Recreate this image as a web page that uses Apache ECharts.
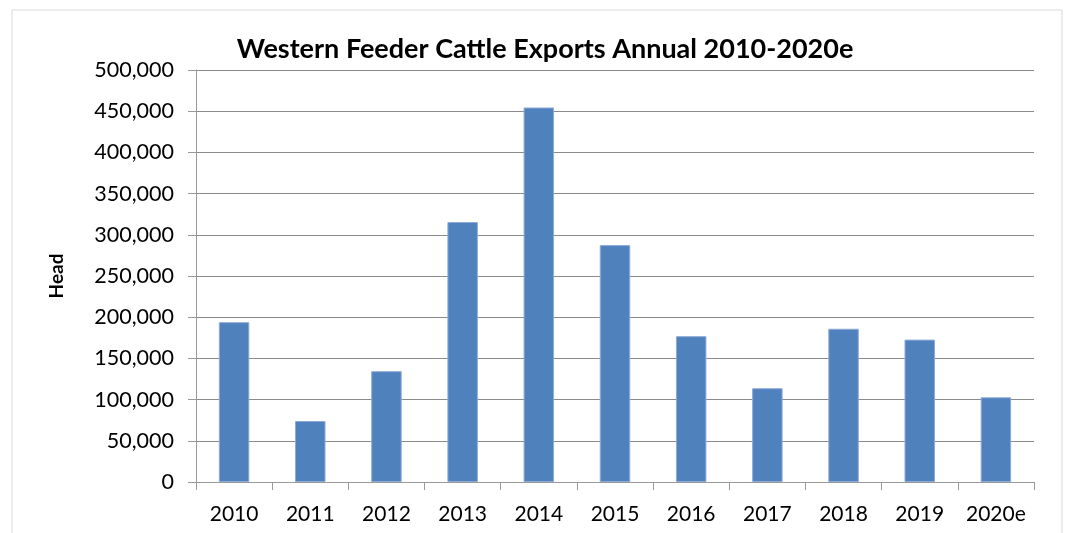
<!DOCTYPE html>
<html>
<head>
<meta charset="utf-8">
<script src="https://cdn.jsdelivr.net/npm/echarts@6/dist/echarts.min.js"></script>
<style>
  html, body { margin: 0; padding: 0; background: #fff; }
  #chart { width: 1068px; height: 533px; }
</style>
</head>
<body>
<div id="chart"></div>
<script>
const years = ['2010', '2011', '2012', '2013', '2014', '2015', '2016', '2017', '2018', '2019', '2020e'];
const exports = [194000, 74000, 134500, 315500, 454500, 287500, 177000, 113800, 186000, 172800, 102800];

const chart = echarts.init(document.getElementById('chart'));
const font = 'Lato, "Open Sans", sans-serif';

const option = {
  backgroundColor: '#fff',
  animation: false,
  title: {
    text: 'Western Feeder Cattle Exports Annual 2010-2020e',
    left: 540,
    top: 31,
    textAlign: 'center',
    textStyle: { fontFamily: font, fontSize: 27, fontWeight: 'bold', color: '#000' }
  },
  graphic: [{
    type: 'rect',
    shape: { x: 12, y: 10, width: 1050, height: 560 },
    style: { fill: 'none', stroke: '#d9d9d9', lineWidth: 1 },
    silent: true
  }],
  grid: { left: 196, right: 34, top: 70, bottom: 51 },
  xAxis: {
    type: 'category',
    data: years,
    axisLine: { lineStyle: { color: '#999', width: 1 } },
    axisTick: { show: true, length: 8, lineStyle: { color: '#999' } },
    axisLabel: { fontFamily: font, fontSize: 21, color: '#000', margin: 22, interval: 0 }
  },
  yAxis: {
    type: 'value',
    min: 0,
    max: 500000,
    interval: 50000,
    name: 'Head',
    nameLocation: 'middle',
    nameGap: 130,
    nameRotate: 90,
    nameTextStyle: { fontFamily: font, fontSize: 19, fontWeight: 'bold', color: '#000' },
    axisLine: { show: true, lineStyle: { color: '#999', width: 1 } },
    axisTick: { show: true, length: 8, lineStyle: { color: '#999' } },
    splitLine: { lineStyle: { color: '#8a8a8a', width: 1 } },
    axisLabel: {
      fontFamily: font, fontSize: 21.5, color: '#000', margin: 22,
      formatter: v => v.toLocaleString('en-US')
    }
  },
  series: [{
    type: 'bar',
    data: exports,
    barWidth: '40%',
    itemStyle: { color: '#4f81bd', borderColor: '#8eaad8', borderWidth: 1 }
  }]
};

chart.setOption(option);
</script>
</body>
</html>
